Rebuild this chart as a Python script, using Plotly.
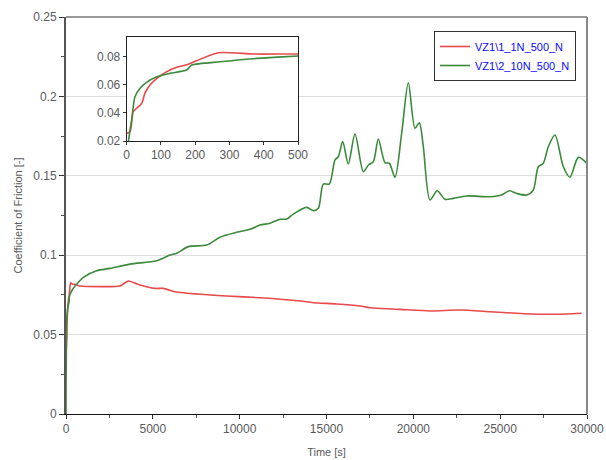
import plotly.graph_objects as go

# ---- data ----
green_t = [0, 5, 15, 24, 39, 58, 88, 126, 175, 190, 272, 370, 500, 1000, 1766, 2534, 3685,
           5222, 5988, 6374, 7043, 8102, 8867, 9829, 10595, 11171, 11746, 12322, 12707, 13090,
           13858, 14240, 14529, 14817, 15162, 15490, 15682, 15932, 16256, 16641, 17121, 17409,
           17697, 17985, 18368, 18617, 18944, 19328, 19712, 20096, 20345, 20575, 20959, 21379,
           21822, 22302, 23072, 24414, 25087, 25524, 25951, 26527, 26906, 27195, 27483, 27771,
           28156, 28636, 29020, 29500, 29980]
green_v = [0.0, 0.0195, 0.0361, 0.0514, 0.0574, 0.0616, 0.0656, 0.068, 0.0704, 0.0739, 0.0762,
           0.0784, 0.0803, 0.0861, 0.0902, 0.0917, 0.0944, 0.0965, 0.1001, 0.1012, 0.1054,
           0.1064, 0.1113, 0.1144, 0.1163, 0.119, 0.1201, 0.1226, 0.1228, 0.1259, 0.1301,
           0.128, 0.1295, 0.1448, 0.1448, 0.16, 0.162, 0.1715, 0.1574, 0.1763, 0.1526, 0.1568,
           0.1589, 0.1732, 0.1583, 0.1579, 0.1491, 0.1768, 0.2086, 0.1799, 0.1834, 0.1683,
           0.1348, 0.1406, 0.1352, 0.1358, 0.1373, 0.1368, 0.1379, 0.1406, 0.1389, 0.1379,
           0.141, 0.1557, 0.1579, 0.1683, 0.1757, 0.1557, 0.1491, 0.1616, 0.1579]

red_t = [0, 10, 19, 29, 44, 53, 68, 88, 117, 146, 180, 204, 267, 370, 500, 806, 1958, 3109,
         3589, 4261, 5125, 5606, 6276, 7716, 9253, 11171, 13474, 14240, 15586, 16929, 17505,
         19232, 20959, 22687, 24414, 25951, 27294, 28829, 29692]
red_v = [0.0255, 0.0266, 0.0408, 0.0432, 0.0467, 0.0538, 0.0597, 0.0645, 0.0692, 0.0723,
         0.0744, 0.0769, 0.0826, 0.0817, 0.0817, 0.0806, 0.0802, 0.0806, 0.0838, 0.0812,
         0.0791, 0.0791, 0.077, 0.0754, 0.0743, 0.0732, 0.0712, 0.0701, 0.0693, 0.068,
         0.0669, 0.0659, 0.0649, 0.0655, 0.0644, 0.0634, 0.0628, 0.063, 0.0634]

names = ["VZ1\\1_1N_500_N", "VZ1\\2_10N_500_N"]
RED = "#e8494b"
GREEN = "#3b8a3b"
FONT = "Liberation Sans, Arial, sans-serif"
TICKC = "#5a5a5a"

fig = go.Figure()
fig.add_trace(go.Scatter(x=red_t, y=red_v, mode="lines", name=names[0],
                         line=dict(color=RED, width=1.6, shape="spline", smoothing=0.6)))
fig.add_trace(go.Scatter(x=green_t, y=green_v, mode="lines", name=names[1],
                         line=dict(color=GREEN, width=1.6, shape="spline", smoothing=0.8)))
# inset copies
fig.add_trace(go.Scatter(x=red_t, y=red_v, mode="lines", showlegend=False,
                         line=dict(color=RED, width=1.6, shape="spline", smoothing=0.6),
                         xaxis="x2", yaxis="y2"))
fig.add_trace(go.Scatter(x=green_t, y=green_v, mode="lines", showlegend=False,
                         line=dict(color=GREEN, width=1.6, shape="spline", smoothing=0.6),
                         xaxis="x2", yaxis="y2"))

W, H = 606, 460
L, R, T, B = 66, 587, 17, 414
ix0, ix1, iy0, iy1 = 126.7, 298, 36.7, 141

fig.update_layout(
    width=W, height=H,
    margin=dict(l=L, r=W - R, t=T, b=H - B),
    paper_bgcolor="white", plot_bgcolor="white",
    font=dict(family=FONT, size=12, color=TICKC),
    xaxis=dict(range=[0, 30000], dtick=5000, tick0=0, tickformat="d", automargin=False,
               showgrid=False, zeroline=False,
               showline=True, linecolor="#111111", linewidth=1,
               ticks="outside", ticklen=4, tickcolor="#333333",
               minor=dict(dtick=2500, ticks="outside", ticklen=3, tickcolor="#555555"),
               tickfont=dict(size=12, color=TICKC),
               title=dict(text="Time [s]", font=dict(size=11, color=TICKC), standoff=12)),
    yaxis=dict(range=[0, 0.25], dtick=0.05, tick0=0, automargin=False,
               showgrid=True, gridcolor="#dddddd",
               gridwidth=1, zeroline=False,
               showline=True, linecolor="#555555", linewidth=2,
               ticks="outside", ticklen=5, tickcolor="#333333",
               minor=dict(dtick=0.025, ticks="outside", ticklen=3, tickcolor="#555555"),
               tickfont=dict(size=12, color=TICKC),
               title=dict(text="Coefficient of Friction [-]", font=dict(size=11, color=TICKC),
                          standoff=8)),
    xaxis2=dict(domain=[(ix0 - L) / (R - L), (ix1 - L) / (R - L)], anchor="y2",
                automargin=False,
                range=[0, 500], dtick=100, tickformat="d", showgrid=False, zeroline=False,
                showline=True, mirror=True, linecolor="#222222", linewidth=1,
                ticks="outside", ticklen=3, tickcolor="#333333",
                tickfont=dict(size=12, color=TICKC)),
    yaxis2=dict(domain=[(B - iy1) / (B - T), (B - iy0) / (B - T)], anchor="x2",
                automargin=False,
                range=[0.02, 0.094], dtick=0.02, tick0=0.02, showgrid=False, zeroline=False,
                showline=True, mirror=True, linecolor="#222222", linewidth=1,
                ticks="outside", ticklen=3, tickcolor="#333333",
                tickformat=".2f",
                tickfont=dict(size=12, color=TICKC)),
    legend=dict(x=(434 - L) / (R - L), y=(B - 31) / (B - T), xanchor="left", yanchor="top",
                bgcolor="white", bordercolor="#333333", borderwidth=1,
                font=dict(family=FONT, size=11, color="#0a0aff"),
                itemwidth=30, tracegroupgap=2),
    shapes=[
        dict(type="line", xref="paper", yref="paper", x0=0, x1=1, y0=1, y1=1,
             line=dict(color="#777777", width=1.5)),
        dict(type="line", xref="paper", yref="paper", x0=1, x1=1, y0=0, y1=1,
             line=dict(color="#888888", width=2)),
    ],
)

fig.write_html("out.html")
